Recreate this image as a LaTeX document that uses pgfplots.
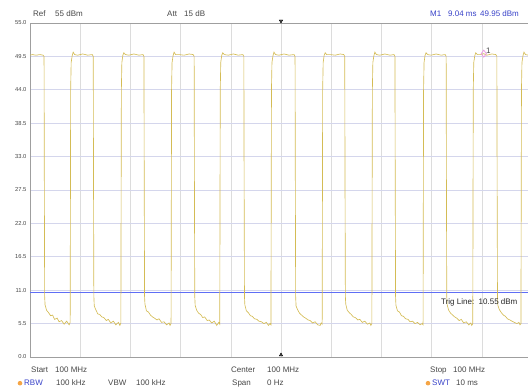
\documentclass[border=0pt]{standalone}
\usepackage{pgfplots}
\pgfplotsset{compat=1.18}
\usepackage{fontspec}
\setmainfont{Liberation Sans}
\definecolor{trace}{RGB}{212,188,85}
\definecolor{vgrid}{RGB}{220,220,220}
\definecolor{hgrid}{RGB}{212,214,236}
\definecolor{trigc}{RGB}{95,110,245}
\definecolor{mk}{RGB}{235,150,225}
\definecolor{txt}{RGB}{70,70,70}
\definecolor{bluetxt}{RGB}{55,65,200}
\definecolor{dot}{RGB}{245,165,70}
\begin{document}
\begin{tikzpicture}
\useasboundingbox (0,0) rectangle (528pt,391pt);
\begin{axis}[
  at={(30pt,34pt)}, anchor=south west,
  scale only axis, width=502pt, height=334pt,
  xmin=0, xmax=10, ymin=0, ymax=55,
  xtick={0,1,...,10}, xticklabels={},
  ytick={0,5.5,11,16.5,22,27.5,33,38.5,44,49.5,55},
  yticklabel style={/pgf/number format/.cd, fixed, fixed zerofill, precision=1, assume math mode=true},
  tick label style={font=\fontsize{5.8}{6}\selectfont, text=txt},
  major tick length=0pt,
  xmajorgrids, ymajorgrids,
  x grid style={vgrid, line width=0.6pt},
  y grid style={hgrid, line width=0.6pt},
  axis line style={draw=gray!75, line width=0.7pt},
  clip=false,
]
\addplot[color=trigc, line width=0.9pt, mark=none] coordinates {(0,10.55)(10,10.55)};
\addplot[color=trace, line width=0.65pt, mark=none] coordinates {
(0,49.7)(0.05,49.8)(0.12,49.7)(0.2,49.8)(0.26,49.7)(0.28,49.5)
(0.285,30)(0.292,10)(0.30,8.6)(0.33,7.7)(0.37,7.3)(0.41,6.8)(0.45,6.9)(0.49,6.2)(0.54,6.4)(0.58,5.8)(0.63,6.0)(0.68,5.4)(0.73,5.9)(0.78,5.3)(0.80,5.7)
(0.805,25)(0.81,44)(0.82,48.5)(0.84,49.6)(0.86,50.2)(0.89,49.8)(0.95,49.7)(1.05,49.9)(1.15,49.7)(1.24,49.8)(1.26,49.5)
(1.265,30)(1.272,10)(1.28,8.4)(1.31,7.8)(1.35,7.1)(1.39,7.0)(1.43,6.6)(1.47,6.5)(1.52,6.0)(1.56,6.2)(1.61,5.6)(1.66,5.9)(1.71,5.3)(1.76,5.7)(1.79,5.2)(1.81,5.6)
(1.815,25)(1.82,44)(1.83,48.5)(1.85,49.7)(1.87,50.1)(1.90,49.8)(1.97,49.7)(2.07,49.9)(2.17,49.7)(2.25,49.8)(2.27,49.5)
(2.275,30)(2.282,10)(2.29,8.7)(2.32,7.6)(2.36,7.4)(2.40,6.9)(2.44,6.6)(2.48,6.4)(2.53,6.1)(2.57,6.3)(2.62,5.7)(2.67,5.8)(2.72,5.3)(2.77,5.6)(2.79,5.2)(2.81,5.5)
(2.815,25)(2.82,44)(2.83,48.5)(2.85,49.6)(2.87,50.2)(2.90,49.8)(2.97,49.8)(3.07,49.7)(3.17,49.9)(3.25,49.8)(3.27,49.5)
(3.275,30)(3.282,10)(3.29,8.5)(3.32,7.7)(3.36,7.2)(3.40,7.0)(3.44,6.5)(3.48,6.6)(3.53,6.0)(3.57,6.1)(3.62,5.6)(3.67,5.9)(3.72,5.2)(3.76,5.7)(3.78,5.4)
(3.785,25)(3.79,44)(3.80,48.5)(3.82,49.7)(3.84,50.1)(3.87,49.8)(3.95,49.7)(4.05,49.9)(4.15,49.7)(4.24,49.8)(4.26,49.5)
(4.265,30)(4.272,10)(4.28,8.6)(4.31,7.6)(4.35,7.3)(4.39,6.8)(4.43,6.7)(4.47,6.3)(4.52,6.2)(4.56,5.9)(4.61,5.8)(4.66,5.5)(4.71,5.7)(4.75,5.2)(4.78,5.5)(4.80,5.3)
(4.805,25)(4.81,44)(4.82,48.5)(4.84,49.6)(4.86,50.2)(4.89,49.8)(4.96,49.7)(5.06,49.9)(5.16,49.7)(5.26,49.8)(5.28,49.5)
(5.285,30)(5.292,10)(5.30,8.4)(5.33,7.8)(5.37,7.2)(5.41,6.9)(5.45,6.6)(5.49,6.4)(5.54,6.1)(5.58,6.0)(5.63,5.6)(5.68,5.8)(5.73,5.3)(5.78,5.2)(5.80,5.6)(5.82,5.4)
(5.825,25)(5.83,44)(5.84,48.5)(5.86,49.7)(5.88,50.1)(5.91,49.8)(5.98,49.8)(6.08,49.7)(6.18,49.9)(6.25,49.8)(6.27,49.5)
(6.275,30)(6.282,10)(6.29,8.7)(6.32,7.7)(6.36,7.3)(6.40,7.0)(6.44,6.6)(6.48,6.5)(6.53,6.1)(6.57,6.2)(6.62,5.7)(6.67,5.9)(6.72,5.4)(6.77,5.6)(6.79,5.2)(6.81,5.5)
(6.815,25)(6.82,44)(6.83,48.5)(6.85,49.6)(6.87,50.2)(6.90,49.8)(6.97,49.7)(7.07,49.9)(7.17,49.7)(7.25,49.8)(7.27,49.5)
(7.275,30)(7.282,10)(7.29,8.5)(7.32,7.6)(7.36,7.4)(7.40,6.8)(7.44,6.7)(7.48,6.3)(7.53,6.2)(7.57,5.8)(7.62,5.9)(7.67,5.5)(7.72,5.7)(7.77,5.3)(7.81,5.5)(7.83,5.3)
(7.835,25)(7.84,44)(7.85,48.5)(7.87,49.7)(7.89,50.1)(7.92,49.8)(7.99,49.7)(8.09,49.9)(8.19,49.7)(8.27,49.8)(8.29,49.5)
(8.295,30)(8.302,10)(8.31,8.6)(8.34,7.7)(8.38,7.2)(8.42,6.9)(8.46,6.6)(8.50,6.4)(8.55,6.0)(8.59,6.2)(8.64,5.6)(8.69,5.8)(8.74,5.3)(8.78,5.6)(8.80,5.2)(8.82,5.5)
(8.825,25)(8.83,44)(8.84,48.5)(8.86,49.6)(8.88,50.1)(8.91,49.8)(8.98,49.8)(9.04,49.95)(9.10,49.7)(9.20,49.9)(9.28,49.8)(9.30,49.5)
(9.305,30)(9.312,10)(9.32,8.5)(9.35,7.8)(9.39,7.3)(9.43,6.9)(9.47,6.7)(9.51,6.3)(9.56,6.1)(9.60,5.9)(9.65,5.7)(9.70,5.5)(9.74,5.7)(9.76,5.3)(9.78,5.5)
(9.785,25)(9.79,44)(9.80,48.5)(9.82,49.6)(9.84,50.2)(9.87,49.8)(9.93,49.7)(10.0,49.8)
};
% marker M1
\addplot[only marks, mark=diamond, mark size=3.5pt, mark options={draw=mk, line width=0.7pt},
  nodes near coords={1}, every node near coord/.style={font=\fontsize{8}{8}\selectfont, text=txt, anchor=south west, inner sep=0.5pt, xshift=1.5pt, yshift=-1pt}]
  coordinates {(9.04,49.95)};
% center markers
\addplot[only marks, mark=triangle*, mark size=2pt, mark options={rotate=180, fill=gray!60!black, draw=none, yshift=-2pt}] coordinates {(5,55)};
\addplot[only marks, mark=triangle*, mark size=2pt, mark options={fill=gray!60!black, draw=none, yshift=2pt}] coordinates {(5,0)};
\end{axis}
\begin{scope}[every node/.style={anchor=base west, inner sep=0pt, font=\fontsize{8}{8}\selectfont, text=txt}]
\node at (33pt,374pt) {Ref};
\node at (55pt,374pt) {55 dBm};
\node at (167pt,374pt) {Att};
\node at (184pt,374pt) {15 dB};
\node[text=bluetxt] at (430pt,374pt) {M1};
\node[text=bluetxt] at (448pt,374pt) {9.04 ms};
\node[text=bluetxt] at (480pt,374pt) {49.95 dBm};
\node at (31pt,18pt) {Start};
\node at (55pt,18pt) {100 MHz};
\node at (231pt,18pt) {Center};
\node at (267pt,18pt) {100 MHz};
\node at (430pt,18pt) {Stop};
\node at (453pt,18pt) {100 MHz};
\node[text=bluetxt] at (24pt,5pt) {RBW};
\node at (56pt,5pt) {100 kHz};
\node at (108pt,5pt) {VBW};
\node at (136pt,5pt) {100 kHz};
\node at (232pt,5pt) {Span};
\node at (267pt,5pt) {0 Hz};
\node[text=bluetxt] at (432pt,5pt) {SWT};
\node at (456pt,5pt) {10 ms};
\node[text=black!85] at (441pt,86pt) {Trig Line:\ \ 10.55 dBm};
\end{scope}
\fill[dot] (20pt,7.8pt) circle (2.3pt);
\fill[dot] (428pt,7.8pt) circle (2.3pt);
\end{tikzpicture}
\end{document}
